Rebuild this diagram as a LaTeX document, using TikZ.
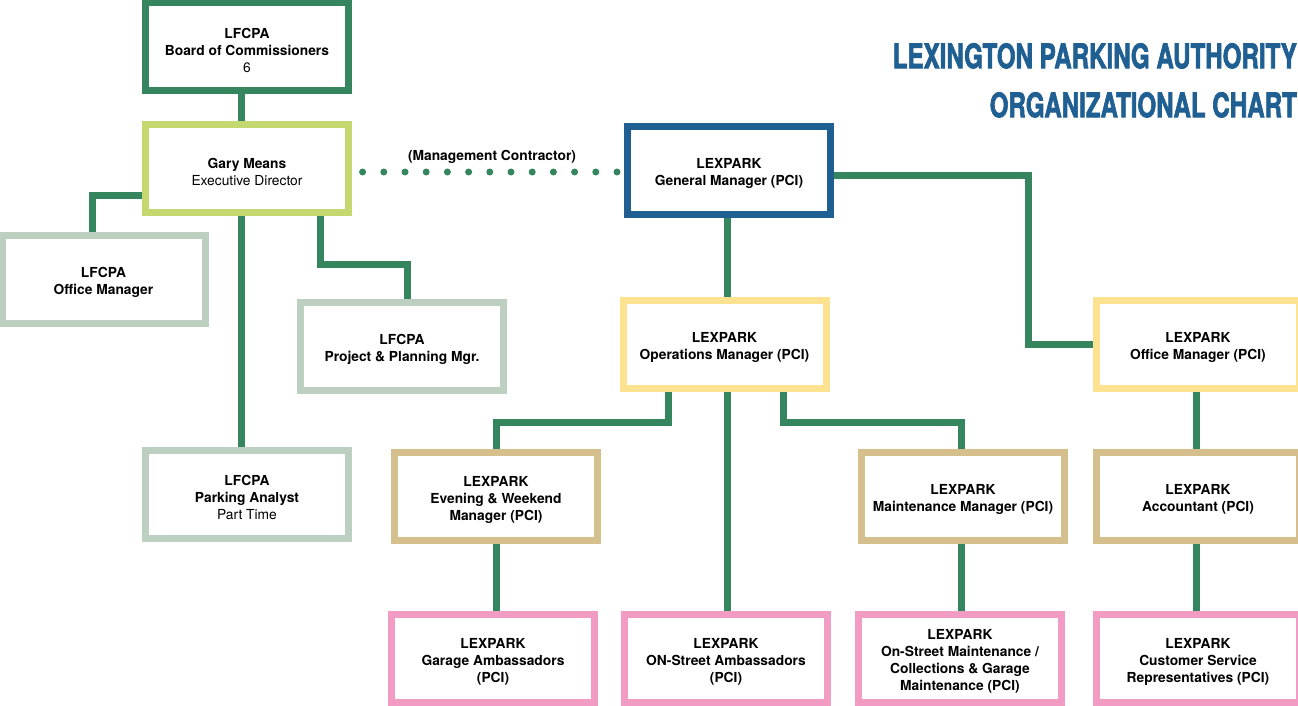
\documentclass[tikz,border=0pt]{standalone}
\usepackage{fontspec}
\usepackage{graphicx}
\setmainfont{TeX Gyre Heros}
\newfontfamily\titlefont[BoldFeatures={FakeBold=2.5}]{TeX Gyre Heros}
\usetikzlibrary{backgrounds}
\definecolor{conngreen}{HTML}{35855F}
\definecolor{boardgreen}{HTML}{35855F}
\definecolor{limegreen}{HTML}{C3D96F}
\definecolor{sage}{HTML}{BCCFC1}
\definecolor{navy}{HTML}{1F5F92}
\definecolor{paleyellow}{HTML}{FDE290}
\definecolor{tan}{HTML}{D5BF8C}
\definecolor{pinkish}{HTML}{F29CC3}
\newcommand\topgap{\rule{0pt}{17pt}}
\tikzset{
  orgbox/.style={rectangle, draw, line width=7pt, fill=white,
    minimum width=203pt, minimum height=88pt, inner sep=0pt,
    align=center, font=\fontsize{13.8}{17}\selectfont\bfseries},
  conn/.style={draw=conngreen, line width=7pt},
  dots/.style={draw=conngreen, line width=7pt, line cap=round, dash pattern=on 0pt off 21.2pt},
}
\begin{document}
\begin{tikzpicture}[x=1pt,y=-1pt]
\useasboundingbox (0,0) rectangle (1298,706);
\clip (0,0) rectangle (1298,706);

% title
\node[anchor=north east, inner sep=0pt, text=navy] (title1) at (1297,43)
  {\resizebox{404pt}{25pt}{\titlefont\bfseries LEXINGTON PARKING AUTHORITY}};
\node[anchor=north east, inner sep=0pt, text=navy] (title2) at (1297,92)
  {\resizebox{307pt}{25pt}{\titlefont\bfseries ORGANIZATIONAL CHART}};

% boxes
\node[orgbox, draw=boardgreen] (board) at (247,47) {\topgap LFCPA\\Board of Commissioners\\\textmd{6}};
\node[orgbox, draw=limegreen] (gary) at (247,168.5) {\topgap Gary Means\\\textmd{Executive Director}};
\node[orgbox, draw=sage] (lfom) at (103.5,279.5) {\topgap LFCPA\\Office Manager};
\node[orgbox, draw=sage] (proj) at (402,346.5) {\topgap LFCPA\\Project \& Planning Mgr.};
\node[orgbox, draw=sage] (analyst) at (247,494.5) {\topgap LFCPA\\Parking Analyst\\\textmd{Part Time}};
\node[orgbox, draw=navy] (gm) at (729,170.5) {\topgap LEXPARK\\General Manager (PCI)};
\node[orgbox, draw=paleyellow] (ops) at (724.5,344) {\topgap LEXPARK\\Operations Manager (PCI)};
\node[orgbox, draw=paleyellow] (lpom) at (1198,344) {\topgap LEXPARK\\Office Manager (PCI)};
\node[orgbox, draw=tan] (evening) at (496,496) {\topgap LEXPARK\\Evening \& Weekend\\Manager (PCI)};
\node[orgbox, draw=tan] (maint) at (963,496) {\topgap LEXPARK\\Maintenance Manager (PCI)};
\node[orgbox, draw=tan] (acct) at (1198,496) {\topgap LEXPARK\\Accountant (PCI)};
\node[orgbox, draw=pinkish] (garage) at (493,658) {\topgap LEXPARK\\Garage Ambassadors\\(PCI)};
\node[orgbox, draw=pinkish] (onstreet) at (726,658) {\topgap LEXPARK\\ON-Street Ambassadors\\(PCI)};
\node[orgbox, draw=pinkish] (osmaint) at (960,658) {\topgap LEXPARK\\On-Street Maintenance /\\Collections \& Garage\\Maintenance (PCI)};
\node[orgbox, draw=pinkish] (csr) at (1198,658) {\topgap LEXPARK\\Customer Service\\Representatives (PCI)};

\node[font=\fontsize{13.8}{17}\selectfont\bfseries, inner sep=0pt] (mclabel) at (492,157) {(Management Contractor)};

% connectors
\begin{scope}[on background layer]
\fill[white] (0,0) rectangle (1298,706);
\draw[conn] ([xshift=-6pt]board.south) -- ([xshift=-6pt]gary.north);
\draw[conn] ([yshift=-27pt]gary.west) -| ([xshift=-11.5pt]lfom.north);
\draw[conn] ([xshift=-6pt]gary.south) -- ([xshift=-6pt]analyst.north);
\draw[conn] ([xshift=73pt]gary.south) -- ++(0,48) -| ([xshift=5pt]proj.north);
\draw[conn] ([xshift=-2pt]gm.south) -- ([xshift=2.5pt]ops.north);
\draw[conn] ([yshift=-4.5pt]gm.east) -| ([xshift=-65pt]lpom.west) -- (lpom.west);
\draw[conn] ([xshift=-56.5pt]ops.south) -- ++(0,31) -| (evening.north);
\draw[conn] ([xshift=58.5pt]ops.south) -- ++(0,31) -| ([xshift=-2pt]maint.north);
\draw[conn] ([xshift=2.5pt]ops.south) -- ([xshift=1pt]onstreet.north);
\draw[conn] (evening.south) -- ([xshift=3pt]garage.north);
\draw[conn] ([xshift=-2pt]maint.south) -- ([xshift=1pt]osmaint.north);
\draw[conn] ([xshift=-2pt]lpom.south) -- ([xshift=-2pt]acct.north);
\draw[conn] ([xshift=-2pt]acct.south) -- ([xshift=-2pt]csr.north);
\end{scope}
\draw[dots] ([xshift=10.6pt,yshift=-3.5pt]gary.east) -- ([xshift=-7pt,yshift=-1.5pt]gm.west);
\end{tikzpicture}
\end{document}
